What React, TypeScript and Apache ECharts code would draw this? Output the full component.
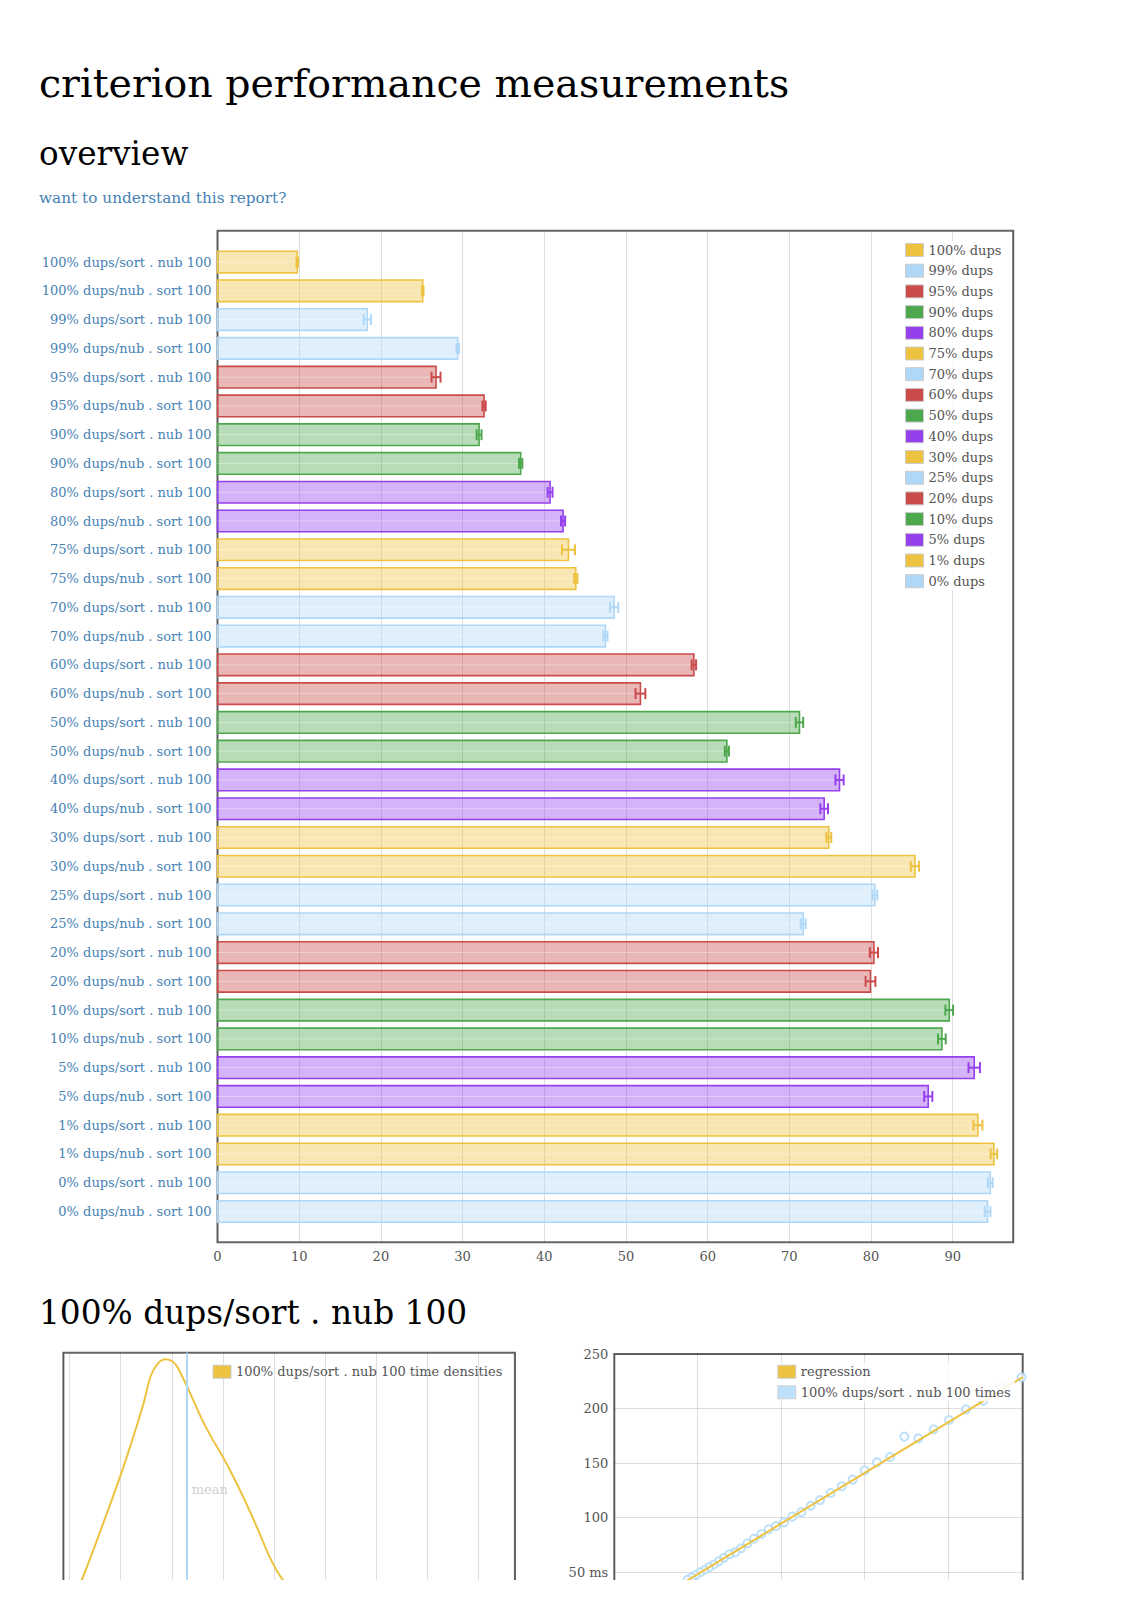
import React, { useEffect, useRef } from "react";
import * as echarts from "echarts";

const FONT = "DejaVu Serif";
const FLOT_COLORS = ["#edc240", "#afd8f8", "#cb4b4b", "#4da74d", "#9440ed"];
const AXIS_TEXT = "#545454";
const LINK_BLUE = "#4682b4";
const GRID_LINE = "rgba(0,0,0,0.13)";

// ---------- overview data ----------
const GROUPS = [
  "100% dups", "99% dups", "95% dups", "90% dups", "80% dups", "75% dups",
  "70% dups", "60% dups", "50% dups", "40% dups", "30% dups", "25% dups",
  "20% dups", "10% dups", "5% dups", "1% dups", "0% dups",
];
const CATEGORIES = GROUPS.flatMap((g) => [`${g}/sort . nub 100`, `${g}/nub . sort 100`]);
const MEANS = [
  9.77, 25.12, 18.34, 29.41, 26.75, 32.63, 32.02, 37.11, 40.71, 42.3, 42.96, 43.86,
  48.55, 47.49, 58.31, 51.77, 71.24, 62.35, 76.14, 74.26, 74.83, 85.37, 80.47, 71.69,
  80.35, 79.93, 89.57, 88.67, 92.63, 87.0, 93.08, 95.04, 94.59, 94.26,
];
const ERRORS = [
  0.1, 0.1, 0.45, 0.15, 0.55, 0.2, 0.3, 0.2, 0.3, 0.25, 0.8, 0.2,
  0.5, 0.25, 0.27, 0.6, 0.45, 0.25, 0.5, 0.47, 0.3, 0.5, 0.3, 0.3,
  0.5, 0.6, 0.47, 0.47, 0.7, 0.5, 0.55, 0.4, 0.3, 0.35,
];
const X_TICK_STEP = 10;
const X_MAX = 97.4;

// ---------- density data (100% dups/sort . nub 100) ----------
const DENSITY_X = [
  9.49, 9.5236, 9.5573, 9.6011, 9.6247, 9.6449, 9.6584, 9.6732, 9.6887, 9.7022,
  9.7123, 9.7332, 9.7595, 9.7797, 9.7999, 9.8269, 9.8606, 9.8943, 9.9179, 9.97,
  10.05, 10.37,
];
const DENSITY_Y = [
  0.03, 0.167, 0.332, 0.558, 0.692, 0.815, 0.912, 0.961, 0.976, 0.967,
  0.943, 0.863, 0.754, 0.683, 0.619, 0.522, 0.387, 0.241, 0.167, 0.06,
  0.02, 0.0,
];
const DENSITY_MEAN = 9.733;
const DENSITY_X_MIN = 9.4879;
const DENSITY_X_MAX = 10.3716;

// ---------- regression data ----------
const REG_ITERS = [
  24422, 23243, 22125, 21085, 20066, 19146, 18227, 17388, 16528, 15749, 15010, 14290,
  13631, 12971, 12332, 11772, 11212, 10673, 10174, 9694, 9254, 8815, 8375, 7975,
  7596, 7236, 6896, 6557, 6257, 5957, 5677, 5397, 5138, 4878, 4638, 4399,
];
const REG_TIMES = [
  228.6, 219.5, 207.2, 199.3, 189.5, 181.0, 172.7, 174.3, 155.6, 150.8, 143.4, 134.9,
  128.8, 122.7, 116.2, 111.0, 105.2, 101.0, 95.8, 92.4, 89.4, 85.1, 80.8, 76.5,
  72.0, 68.3, 66.5, 63.1, 60.0, 57.0, 54.6, 52.1, 50.0, 47.5, 45.4, 43.2,
];
const REG_LINE_X = [0, 24484];
const REG_LINE_Y = [2.0, 228.8];
const REG_X_MAX = 24484;
const REG_Y_TICKS = [50, 100, 150, 200, 250];
const REG_UNIT = "ms";

function rgba(hex: string, a: number) {
  const n = parseInt(hex.slice(1), 16);
  return `rgba(${(n >> 16) & 255},${(n >> 8) & 255},${n & 255},${a})`;
}

const BAR_HALF = 0.375;
const CAP_HALF = 0.19;

function makeBarSeries(groupIdx: number) {
  const color = FLOT_COLORS[groupIdx % FLOT_COLORS.length];
  const rows = [groupIdx * 2, groupIdx * 2 + 1];
  return {
    type: "custom",
    name: GROUPS[groupIdx],
    xAxisIndex: 0,
    yAxisIndex: 0,
    itemStyle: { color },
    encode: { x: 0, y: 1 },
    data: rows.map((r) => [MEANS[r], r, ERRORS[r]]),
    renderItem: (params: any, api: any) => {
      const v = api.value(0);
      const idx = api.value(1);
      const e = api.value(2);
      const p0 = api.coord([0, idx - BAR_HALF]);
      const p1 = api.coord([v, idx + BAR_HALF]);
      const x = p0[0];
      const y = Math.min(p0[1], p1[1]);
      const w = p1[0] - p0[0];
      const h = Math.abs(p1[1] - p0[1]);
      const c = api.coord([v, idx]);
      const lo = api.coord([v - e, idx]);
      const hi = api.coord([v + e, idx]);
      const cap = Math.abs(api.coord([v, idx + CAP_HALF])[1] - c[1]);
      return {
        type: "group",
        children: [
          {
            type: "rect",
            shape: { x, y, width: w, height: h },
            style: { fill: rgba(color, 0.4), stroke: color, lineWidth: 1.6 },
          },
          {
            type: "line",
            shape: { x1: x, y1: c[1], x2: x + w, y2: c[1] },
            style: { stroke: "rgba(255,255,255,0.35)", lineWidth: 1 },
          },
          {
            type: "line",
            shape: { x1: lo[0], y1: c[1], x2: hi[0], y2: c[1] },
            style: { stroke: color, lineWidth: 2 },
          },
          {
            type: "line",
            shape: { x1: lo[0], y1: c[1] - cap, x2: lo[0], y2: c[1] + cap },
            style: { stroke: color, lineWidth: 2 },
          },
          {
            type: "line",
            shape: { x1: hi[0], y1: c[1] - cap, x2: hi[0], y2: c[1] + cap },
            style: { stroke: color, lineWidth: 2 },
          },
        ],
      };
    },
  };
}

const legendText = { color: AXIS_TEXT, fontSize: 13, fontFamily: FONT, lineHeight: 14 };
const legendItemStyle = { borderColor: "#cccccc", borderWidth: 1 };

export default function App() {
  const ref = useRef<HTMLDivElement>(null);
  useEffect(() => {
    if (!ref.current) return;
    const chart = echarts.init(ref.current, undefined, { renderer: "svg" });
    const heading = (text: string, left: number, top: number, size: number, color = "#000") => ({
      text,
      left,
      top,
      padding: 0,
      textStyle: { fontSize: size, fontWeight: "normal", color, fontFamily: FONT },
    });
    const option: any = {
      animation: false,
      textStyle: { fontFamily: FONT },
      title: [
        heading("criterion performance measurements", 39, 63, 39.5),
        heading("overview", 39, 137.5, 32.7),
        heading("want to understand this report?", 39, 190.5, 15.3, LINK_BLUE),
        heading("100% dups/sort . nub 100", 39, 1296.5, 32.8),
      ],
      grid: [
        { left: 217.5, top: 230.7, width: 795.7, height: 1011.6, show: true, borderColor: "#666", borderWidth: 2, backgroundColor: "transparent" },
        { left: 63.4, top: 1352.7, width: 451.5, height: 273, show: true, borderColor: "#666", borderWidth: 2, backgroundColor: "transparent" },
        { left: 614.3, top: 1354, width: 408.4, height: 272.9, show: true, borderColor: "#666", borderWidth: 2, backgroundColor: "transparent" },
      ],
      xAxis: [
        {
          gridIndex: 0, type: "value", min: 0, max: X_MAX, interval: X_TICK_STEP,
          axisLine: { show: false }, axisTick: { show: false },
          axisLabel: { color: AXIS_TEXT, fontSize: 13, fontFamily: FONT, margin: 8, showMaxLabel: false },
          splitLine: { lineStyle: { color: GRID_LINE, width: 1 } },
        },
        {
          gridIndex: 1, type: "value", min: DENSITY_X_MIN, max: DENSITY_X_MAX, splitNumber: 9,
          axisLine: { show: false }, axisTick: { show: false }, axisLabel: { show: false },
          splitLine: { lineStyle: { color: GRID_LINE, width: 1 } },
        },
        {
          gridIndex: 2, type: "value", min: 0, max: REG_X_MAX, interval: 5000,
          axisLine: { show: false }, axisTick: { show: false }, axisLabel: { show: false },
          splitLine: { lineStyle: { color: GRID_LINE, width: 1 } },
        },
      ],
      yAxis: [
        {
          gridIndex: 0, type: "value", inverse: true, min: -1.09, max: 34.07,
          axisLine: { show: false }, axisTick: { show: false }, splitLine: { show: false },
          axisLabel: {
            customValues: CATEGORIES.map((_, i) => i),
            formatter: (v: number) => CATEGORIES[Math.round(v)] ?? "",
            color: LINK_BLUE, fontSize: 13, fontFamily: FONT, margin: 6,
          },
        },
        { gridIndex: 1, type: "value", min: 0, max: 1, show: false },
        {
          gridIndex: 2, type: "value", min: 0, max: 250, interval: 50,
          axisLine: { show: false }, axisTick: { show: false },
          axisLabel: {
            customValues: REG_Y_TICKS,
            formatter: (v: number) => (v === REG_Y_TICKS[0] ? `${v} ${REG_UNIT}` : `${v}`),
            color: AXIS_TEXT, fontSize: 13, fontFamily: FONT, margin: 6,
          },
          splitLine: { lineStyle: { color: GRID_LINE, width: 1 } },
        },
      ],
      legend: [
        {
          orient: "vertical", left: 901, top: 241, padding: [2, 4, 2, 4],
          backgroundColor: "rgba(255,255,255,0.85)",
          itemWidth: 18, itemHeight: 13, itemGap: 6.7, icon: "rect",
          textStyle: legendText, itemStyle: legendItemStyle,
          data: GROUPS, selectedMode: false,
        },
        {
          orient: "vertical", left: 208.5, top: 1362.7, padding: [2, 4, 2, 4],
          itemWidth: 18, itemHeight: 13, itemGap: 6.7, icon: "rect",
          textStyle: legendText, itemStyle: legendItemStyle,
          data: ["100% dups/sort . nub 100 time densities"], selectedMode: false,
        },
        {
          orient: "vertical", left: 773.3, top: 1362.7, padding: [2, 4, 2, 4],
          backgroundColor: "rgba(255,255,255,0.85)",
          itemWidth: 18, itemHeight: 13, itemGap: 6.6, icon: "rect",
          textStyle: legendText, itemStyle: legendItemStyle,
          data: [
            { name: "regression", itemStyle: { color: FLOT_COLORS[0] } },
            { name: "100% dups/sort . nub 100 times", itemStyle: { color: FLOT_COLORS[1] } },
          ],
          selectedMode: false,
        },
      ],
      series: [
        ...GROUPS.map((_, i) => makeBarSeries(i)),
        {
          type: "line",
          name: "100% dups/sort . nub 100 time densities",
          xAxisIndex: 1, yAxisIndex: 1,
          data: DENSITY_X.map((x, i) => [x, DENSITY_Y[i]]),
          smooth: 0.3, showSymbol: false, symbol: "none",
          itemStyle: { color: FLOT_COLORS[0] },
          lineStyle: { color: FLOT_COLORS[0], width: 2 },
          markLine: {
            silent: true, symbol: ["none", "none"], label: { show: false },
            lineStyle: { color: FLOT_COLORS[1], width: 2, type: "solid" },
            data: [{ xAxis: DENSITY_MEAN }],
          },
        },
        {
          type: "scatter",
          xAxisIndex: 1, yAxisIndex: 1,
          data: [[DENSITY_MEAN, 0.5]],
          symbolSize: 0,
          itemStyle: { color: "transparent" },
          label: { show: true, position: "right", distance: 3, formatter: "mean", color: "#c4c4c4", fontSize: 13, fontFamily: FONT },
          silent: true,
        },
        {
          type: "line",
          name: "regression",
          xAxisIndex: 2, yAxisIndex: 2,
          data: REG_LINE_X.map((x, i) => [x, REG_LINE_Y[i]]),
          showSymbol: false, symbol: "none",
          itemStyle: { color: FLOT_COLORS[0] },
          lineStyle: { color: FLOT_COLORS[0], width: 2 },
        },
        {
          type: "scatter",
          name: "100% dups/sort . nub 100 times",
          xAxisIndex: 2, yAxisIndex: 2,
          data: REG_ITERS.map((x, i) => [x, REG_TIMES[i]]),
          symbol: "circle", symbolSize: 8,
          itemStyle: { color: "#ffffff", borderColor: FLOT_COLORS[1], borderWidth: 2 },
        },
      ],
    };
    chart.setOption(option);
    return () => chart.dispose();
  }, []);
  return (
    <div style={{ position: "absolute", left: 0, top: 0, width: 1131, height: 1580, overflow: "hidden", background: "#fff" }}>
      <div ref={ref} style={{ width: 1131, height: 1700 }} />
    </div>
  );
}
